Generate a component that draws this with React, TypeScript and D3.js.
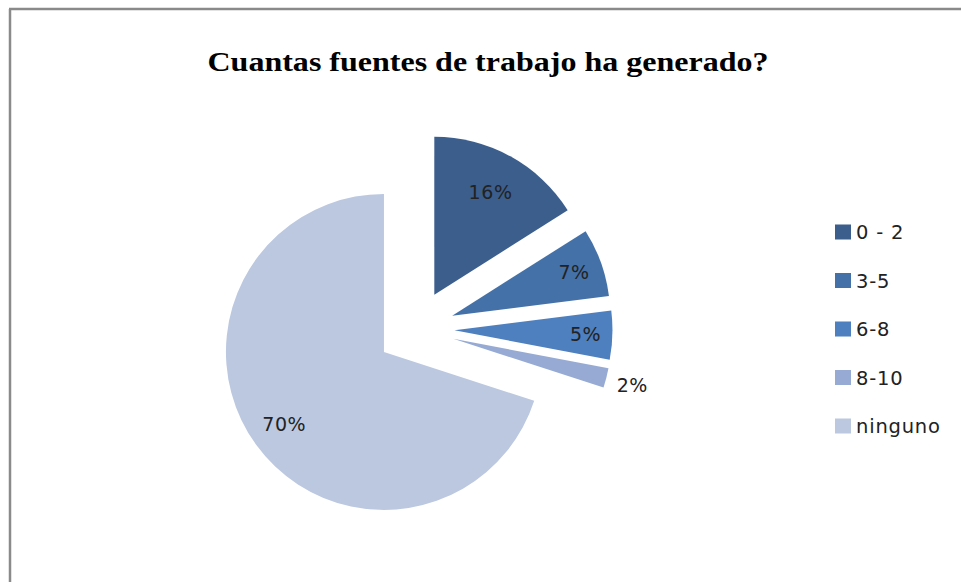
import React from "react";
import * as d3 from "d3";

const categories = ["0 - 2", "3-5", "6-8", "8-10", "ninguno"];
const values = [16, 7, 5, 2, 70];
const labels = ["16%", "7%", "5%", "2%", "70%"];
const colors = ["#3B5E8D", "#4471A8", "#4E7FBE", "#96AAD3", "#BBC8E0"];
const title = "Cuantas fuentes de trabajo ha generado?";

const W = 961;
const H = 582;
const cx = 415.5;
const cy = 329;
const R = 158;
const explode = 39;

export default function App() {
  const pie = d3.pie<number>().sort(null).value((d) => d);
  const arcs = pie(values);
  const arc = d3.arc<d3.PieArcDatum<number>>().innerRadius(0).outerRadius(R);
  const labelFrac = [0.74, 0.82, 0.83, 1.17, 0.78];
  const labelFont = "DejaVu Sans, Verdana, sans-serif";

  return (
    <div style={{ position: "absolute", left: 0, top: 0, width: W, height: H, background: "#fff" }}>
      <svg width={W} height={H} style={{ display: "block" }}>
        <rect x={0} y={0} width={W} height={H} fill="#fff" />
        <line x1={9} y1={9} x2={W} y2={9} stroke="#8a8a8a" strokeWidth={2.5} />
        <line x1={10} y1={9} x2={10} y2={H} stroke="#8a8a8a" strokeWidth={2.5} />
        <text
          x={488}
          y={71}
          textAnchor="middle"
          fontFamily="Liberation Serif, Times New Roman, serif"
          fontWeight="bold"
          fontSize={27}
          textLength={561}
          lengthAdjust="spacingAndGlyphs"
          fill="#000"
        >
          {title}
        </text>
        <g transform={`translate(${cx},${cy})`}>
          {arcs.map((a, i) => {
            const mid = (a.startAngle + a.endAngle) / 2;
            const dx = Math.sin(mid) * explode;
            const dy = -Math.cos(mid) * explode;
            const lr = R * labelFrac[i];
            const lx = dx + Math.sin(mid) * lr;
            const ly = dy - Math.cos(mid) * lr;
            return (
              <g key={categories[i]}>
                <path d={arc(a) || ""} fill={colors[i]} transform={`translate(${dx},${dy})`} />
                <text
                  x={lx}
                  y={ly}
                  textAnchor="middle"
                  dominantBaseline="central"
                  fontFamily={labelFont}
                  fontSize={19}
                  letterSpacing={0.6}
                  fill="#222"
                >
                  {labels[i]}
                </text>
              </g>
            );
          })}
        </g>
        <g>
          {categories.map((c, i) => {
            const y = 232.5 + i * 48.5;
            return (
              <g key={c}>
                <rect x={835} y={y - 8} width={16} height={15} fill={colors[i]} />
                <text
                  x={856}
                  y={y}
                  dominantBaseline="central"
                  fontFamily={labelFont}
                  fontSize={19.5}
                  letterSpacing={0.8}
                  fill="#222"
                >
                  {c}
                </text>
              </g>
            );
          })}
        </g>
      </svg>
    </div>
  );
}
